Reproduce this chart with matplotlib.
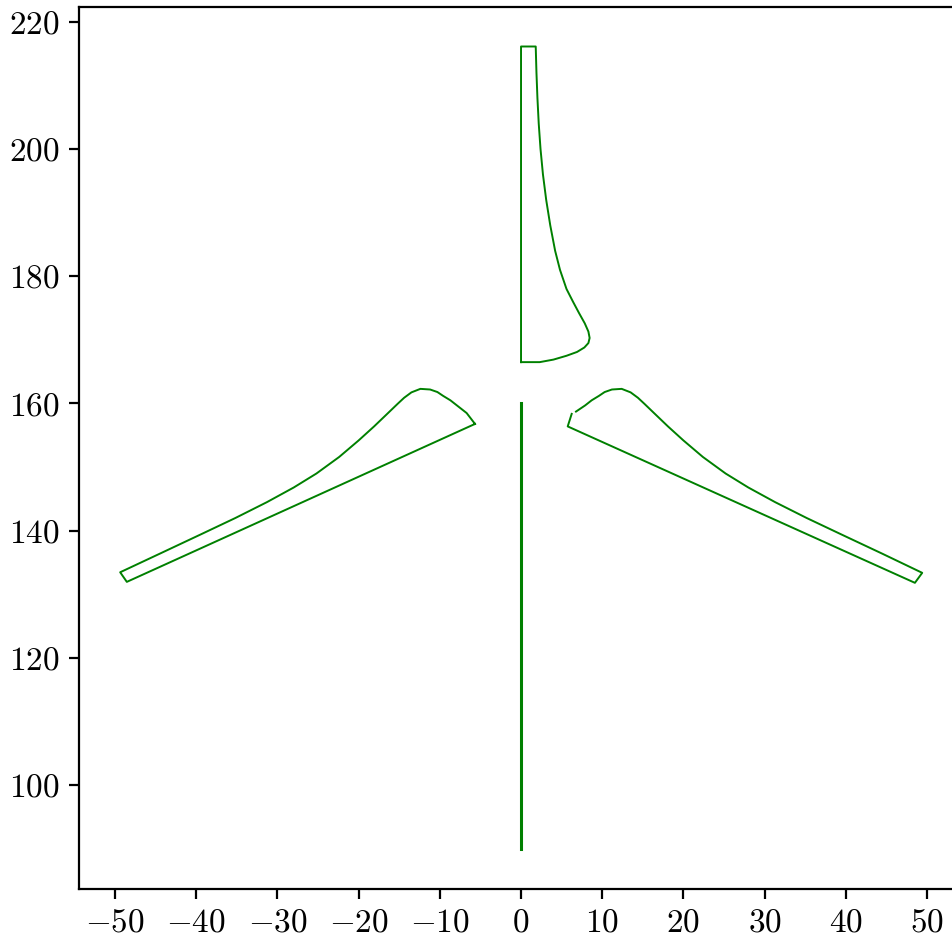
import numpy as np
import matplotlib
matplotlib.use("Agg")
import matplotlib.pyplot as plt

plt.rcParams["font.family"] = "serif"
plt.rcParams["font.serif"] = ["cmr10"]
plt.rcParams["mathtext.fontset"] = "cm"
plt.rcParams["axes.formatter.use_mathtext"] = True
plt.rcParams["font.size"] = 12

# tower
tower_x = [0.0, 0.0]
tower_y = [90.0, 160.0]

# upper blade outline
blade_up_x = [0.0, 0.0, 1.81, 1.9, 2.02, 2.18, 2.4, 2.7, 3.1, 3.6, 4.2, 4.8, 5.6, 6.4,
              7.15, 7.85, 8.3, 8.45, 8.3, 7.8, 6.9, 5.6, 4.0, 2.3, 0.0]
blade_up_y = [166.5, 216.1, 216.1, 212.0, 208.0, 204.0, 200.0, 196.0, 192.0, 188.0,
              184.0, 181.0, 178.0, 176.0, 174.2, 172.6, 171.3, 170.3, 169.5, 168.8,
              168.1, 167.5, 166.9, 166.5, 166.5]

# left blade outline
blade_left_x = [-5.67, -48.56, -49.38, -44.5, -39.5, -35.2, -31.3, -28.0, -25.2, -22.4,
                -20.0, -18.1, -16.3, -15.2, -14.4, -13.5, -12.4, -11.2, -10.3, -9.6,
                -8.7, -7.9, -6.7, -5.67]
blade_left_y = [156.79, 131.97, 133.48, 136.4, 139.4, 142.0, 144.5, 146.8, 149.0, 151.6,
                154.2, 156.4, 158.6, 159.95, 160.9, 161.75, 162.3, 162.2, 161.8, 161.2,
                160.5, 159.7, 158.5, 156.79]

# right blade outline (one segment missing)
blade_right_x = [6.77, 7.9, 8.7, 9.6, 10.3, 11.2, 12.4, 13.5, 14.4, 15.2, 16.3, 18.1,
                 20.0, 22.4, 25.2, 28.0, 31.3, 35.2, 39.5, 44.5, 49.42, 48.52, 5.75, 6.24]
blade_right_y = [158.73, 159.7, 160.5, 161.2, 161.8, 162.2, 162.3, 161.75, 160.9, 159.95,
                 158.6, 156.4, 154.2, 151.6, 149.0, 146.8, 144.5, 142.0, 139.4, 136.4,
                 133.39, 131.82, 156.4, 158.37]

fig = plt.figure(figsize=(4.76, 4.695), dpi=200)
ax = fig.add_axes([0.083, 0.0532, 0.9286, 0.9393])

ax.plot(tower_x, tower_y, color="g", lw=1.1)
ax.plot(blade_up_x, blade_up_y, color="g", lw=0.7)
ax.plot(blade_left_x, blade_left_y, color="g", lw=0.7)
ax.plot(blade_right_x, blade_right_y, color="g", lw=0.7)

ax.set_xlim(-54.45, 54.45)
ax.set_ylim(83.7, 222.3)
ax.set_xticks(np.arange(-50, 51, 10))
ax.set_yticks(np.arange(100, 221, 20))

fig.savefig("out.png", dpi=200)
